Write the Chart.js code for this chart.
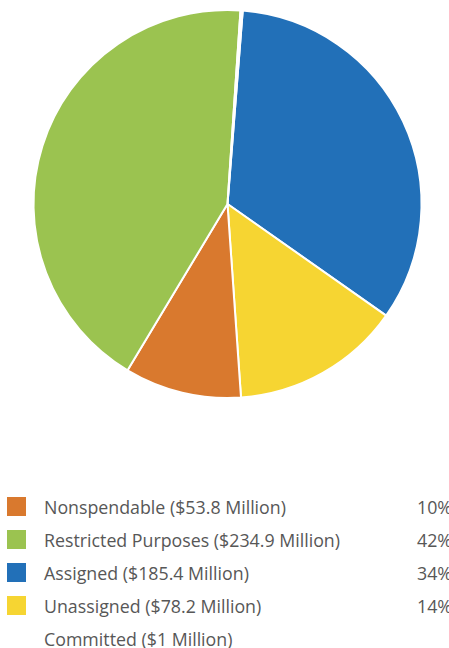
<!DOCTYPE html>
<html>
<head>
<meta charset="utf-8">
<script src="https://cdn.jsdelivr.net/npm/chart.js@4/dist/chart.umd.min.js"></script>
<style>
  html, body { margin: 0; padding: 0; background: #fff; overflow: hidden; }
  body { width: 449px; height: 648px; position: relative; font-family: "Open Sans", sans-serif; }
  #pieBox { position: absolute; left: 0; top: 0; width: 449px; height: 420px; }
  #legend { position: absolute; left: 0; top: 494px; width: 449px; }
  .row { position: relative; height: 33px; line-height: 26px; font-size: 17.8px; color: #575757; white-space: nowrap; }
  .swatch { position: absolute; left: 7px; top: 3px; width: 19px; height: 19px; }
  .label { position: absolute; left: 44px; top: 0; }
  .pct { position: absolute; left: 417px; top: 0; }
</style>
</head>
<body>
<div id="pieBox"><canvas id="pie"></canvas></div>
<div id="legend"></div>
<script>
// fund balance pieces, in millions
const categories = ['Assigned', 'Unassigned', 'Nonspendable', 'Restricted Purposes', 'Committed'];
const amounts = [185.4, 78.2, 53.8, 234.9, 1];
const colors = ['#2270b8', '#f6d532', '#d9792e', '#9bc350', '#ffffff'];

// legend rows, listed top to bottom
const legendNames = ['Nonspendable', 'Restricted Purposes', 'Assigned', 'Unassigned', 'Committed'];
const legendAmounts = ['$53.8', '$234.9', '$185.4', '$78.2', '$1'];
const legendPercents = ['10%', '42%', '34%', '14%', ''];
const legendColors = ['#d9792e', '#9bc350', '#2270b8', '#f6d532', null];

new Chart(document.getElementById('pie'), {
    type: 'pie',
    data: {
        labels: categories,
        datasets: [{
            data: amounts,
            backgroundColor: colors,
            borderColor: '#ffffff',
            borderWidth: 2
        }]
    },
    options: {
        responsive: true,
        maintainAspectRatio: false,
        animation: false,
        rotation: 4.5,
        radius: 194,
        layout: {
            padding: { top: 10, bottom: 22, left: 34, right: 28 }
        },
        plugins: {
            legend: { display: false },
            tooltip: { enabled: false }
        }
    }
});

const legend = document.getElementById('legend');
legendNames.forEach((name, i) => {
    const row = document.createElement('div');
    row.className = 'row';
    if (legendColors[i]) {
        const sw = document.createElement('div');
        sw.className = 'swatch';
        sw.style.background = legendColors[i];
        row.appendChild(sw);
    }
    const label = document.createElement('div');
    label.className = 'label';
    label.textContent = name + ' (' + legendAmounts[i] + ' Million)';
    row.appendChild(label);
    const pct = document.createElement('div');
    pct.className = 'pct';
    pct.textContent = legendPercents[i];
    row.appendChild(pct);
    legend.appendChild(row);
});
</script>
</body>
</html>
